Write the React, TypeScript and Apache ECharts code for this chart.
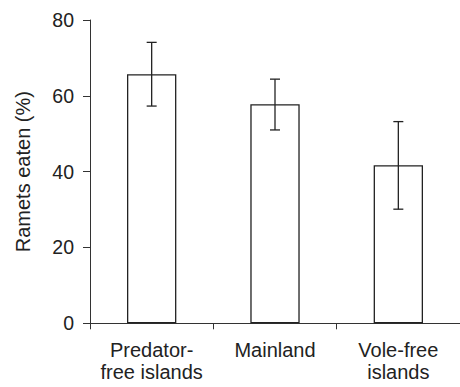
import React, { useEffect, useRef } from "react";
import * as echarts from "echarts";

const categories = ["Predator-\nfree islands", "Mainland", "Vole-free\nislands"];
const values = [65.7, 57.8, 41.7];
const errLow = [57.3, 51.0, 30.1];
const errHigh = [74.1, 64.4, 53.2];
const yTicks = { min: 0, max: 80, interval: 20 };

const FONT = "'Liberation Sans', Arial, Helvetica, sans-serif";
const INK = "#222";

export default function App() {
  const ref = useRef<HTMLDivElement>(null);
  useEffect(() => {
    document.body.style.margin = "0";
    if (!ref.current) return;
    const chart = echarts.init(ref.current, undefined, { renderer: "svg" });
    const errData = categories.map((_, i) => [i, errLow[i], errHigh[i]]);
    chart.setOption({
      animation: false,
      backgroundColor: "#fff",
      grid: { left: 90, top: 20, bottom: 63.7, right: -6.5, containLabel: false },
      xAxis: {
        type: "category",
        data: categories,
        axisLine: { lineStyle: { color: "#333", width: 1 } },
        axisTick: { show: true, length: 6, lineStyle: { color: "#333" } },
        axisLabel: {
          color: INK,
          fontSize: 20,
          fontFamily: FONT,
          margin: 16,
          lineHeight: 22,
          interval: 0,
        },
      },
      yAxis: {
        type: "value",
        min: yTicks.min,
        max: yTicks.max,
        interval: yTicks.interval,
        name: "Ramets eaten (%)",
        nameLocation: "middle",
        nameGap: 57,
        nameTextStyle: { color: INK, fontSize: 20, fontFamily: FONT },
        axisLine: { show: true, lineStyle: { color: "#333", width: 1 } },
        axisTick: { show: true, length: 7, lineStyle: { color: "#333" } },
        splitLine: { show: false },
        axisLabel: { color: INK, fontSize: 19.5, fontFamily: FONT, margin: 16 },
      },
      series: [
        {
          type: "bar",
          data: values,
          barWidth: "40%",
          itemStyle: { color: "#fff", borderColor: INK, borderWidth: 1.3 },
        },
        {
          type: "custom",
          data: errData,
          z: 10,
          renderItem: (params: any, api: any) => {
            const x = api.value(0);
            const lo = api.coord([x, api.value(1)]);
            const hi = api.coord([x, api.value(2)]);
            const hw = 5;
            const style = { stroke: INK, lineWidth: 1.3 };
            return {
              type: "group",
              children: [
                { type: "line", shape: { x1: hi[0], y1: hi[1], x2: lo[0], y2: lo[1] }, style },
                { type: "line", shape: { x1: hi[0] - hw, y1: hi[1], x2: hi[0] + hw, y2: hi[1] }, style },
                { type: "line", shape: { x1: lo[0] - hw, y1: lo[1], x2: lo[0] + hw, y2: lo[1] }, style },
              ],
            };
          },
        },
      ],
    });
    return () => chart.dispose();
  }, []);
  return <div ref={ref} style={{ width: 460, height: 387 }} />;
}
